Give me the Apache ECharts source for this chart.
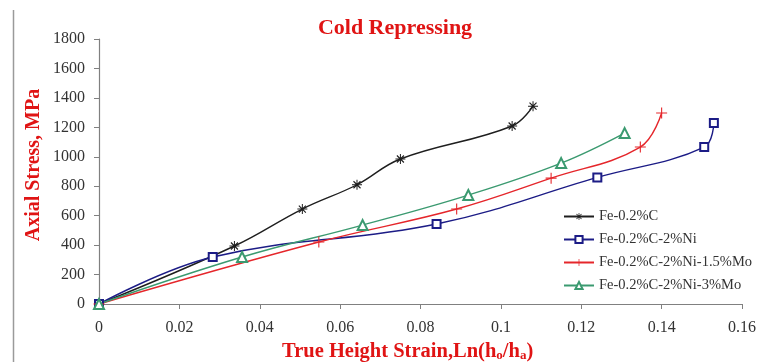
<!DOCTYPE html>
<html>
<head>
<meta charset="utf-8">
<script src="https://cdn.jsdelivr.net/npm/echarts@6/dist/echarts.min.js"></script>
<style>
  html, body { margin: 0; padding: 0; background: #fff; }
  #chart { width: 759px; height: 362px; }
</style>
</head>
<body>
<div id="chart"></div>
<script>
// Cold repressing: axial stress vs true height strain for four alloys
const seriesNames = [
  'Fe-0.2%C',
  'Fe-0.2%C-2%Ni',
  'Fe-0.2%C-2%Ni-1.5%Mo',
  'Fe-0.2%C-2%Ni-3%Mo'
];

const strainC      = [0, 0.0337, 0.0506, 0.0642, 0.0750, 0.1028, 0.1080];
const stressC      = [0, 394, 645, 810, 985, 1209, 1344];

const strainNi     = [0, 0.0283, 0.0840, 0.1240, 0.1506, 0.1530];
const stressNi     = [0, 319, 543, 860, 1066, 1229];

const strainNiMo15 = [0, 0.0547, 0.0890, 0.1125, 0.1347, 0.1400];
const stressNiMo15 = [0, 421, 645, 855, 1066, 1297];

const strainNiMo3  = [0, 0.0356, 0.0656, 0.0919, 0.1150, 0.1308];
const stressNiMo3  = [0, 319, 536, 740, 957, 1161];

const xTicks = [0, 0.02, 0.04, 0.06, 0.08, 0.1, 0.12, 0.14, 0.16];
const yTicks = [0, 200, 400, 600, 800, 1000, 1200, 1400, 1600, 1800];

const pairs = (xs, ys) => xs.map((x, i) => [x, ys[i]]);

const colors = ['#1e1e1e', '#1c1c86', '#e5262b', '#3b9a70'];
const serif = '"Liberation Serif", "Times New Roman", serif';
const red = '#e01414';

// Marker outlines built from thin filled bars so they look the same on the
// plot and in the legend.
const asterisk = 'path://M4.5 0 L5.5 0 L5.5 10 L4.5 10 Z ' +
  'M0 4.5 L10 4.5 L10 5.5 L0 5.5 Z ' +
  'M1.1 1.9 L1.9 1.1 L8.9 8.1 L8.1 8.9 Z ' +
  'M8.1 1.1 L8.9 1.9 L1.9 8.9 L1.1 8.1 Z';
const plus = 'path://M4.5 0 L5.5 0 L5.5 10 L4.5 10 Z M0 4.5 L10 4.5 L10 5.5 L0 5.5 Z';

function lineSeries(idx, data, symbol, size, filledPath) {
  return {
    name: seriesNames[idx],
    type: 'line',
    data: data,
    smooth: 0.4,
    symbol: symbol,
    symbolSize: size,
    showAllSymbol: true,
    lineStyle: { color: colors[idx], width: 1.4 },
    itemStyle: filledPath
      ? { color: colors[idx], borderWidth: 0 }
      : { color: colors[idx], borderColor: colors[idx], borderWidth: 1 },
    emphasis: { disabled: true }
  };
}

const chart = echarts.init(document.getElementById('chart'), null, { renderer: 'canvas' });

chart.setOption({
  animation: false,
  backgroundColor: '#ffffff',
  title: {
    text: 'Cold Repressing',
    left: 390,
    top: 12,
    textAlign: 'center',
    textStyle: { fontFamily: serif, fontWeight: 'bold', fontSize: 22, color: red }
  },
  grid: { left: 99, right: 14, top: 39, bottom: 58 },
  legend: {
    orient: 'vertical',
    left: 558,
    top: 204,
    itemWidth: 30,
    itemHeight: 9,
    itemGap: 8,
    textStyle: { fontFamily: serif, fontSize: 14.5, color: '#333' },
    data: seriesNames
  },
  xAxis: {
    type: 'value',
    min: xTicks[0],
    max: xTicks[xTicks.length - 1],
    interval: 0.02,
    splitLine: { show: false },
    axisLine: { lineStyle: { color: '#808080', width: 1.2 } },
    axisTick: { show: true, length: 5, lineStyle: { color: '#808080' } },
    axisLabel: {
      margin: 16,
      fontFamily: serif,
      fontSize: 16,
      color: '#333',
      formatter: v => String(parseFloat(v.toFixed(2)))
    }
  },
  yAxis: {
    type: 'value',
    min: yTicks[0],
    max: yTicks[yTicks.length - 1],
    interval: 200,
    splitLine: { show: false },
    axisLine: { show: true, lineStyle: { color: '#808080', width: 1.2 } },
    axisTick: { show: true, length: 5, lineStyle: { color: '#808080' } },
    axisLabel: { margin: 14, fontFamily: serif, fontSize: 16, color: '#333', formatter: v => String(v) }
  },
  graphic: [
    {
      type: 'line',
      shape: { x1: 13.5, y1: 10, x2: 13.5, y2: 362 },
      style: { stroke: '#9a9a9a', lineWidth: 1.5 }
    },
    {
      type: 'text',
      x: 34,
      y: 165,
      rotation: Math.PI / 2,
      style: {
        text: 'Axial Stress, MPa',
        fontFamily: serif,
        fontWeight: 'bold',
        fontSize: 20,
        fill: red,
        align: 'center',
        verticalAlign: 'middle'
      }
    },
    {
      type: 'text',
      left: 282,
      top: 341,
      style: {
        text: '{m|True Height Strain,Ln(h}{s|o}{m|/h}{s|a}{m|)}',
        rich: {
          m: { fontFamily: serif, fontWeight: 'bold', fontSize: 20.5, fill: red, color: red },
          s: { fontFamily: serif, fontWeight: 'bold', fontSize: 13, fill: red, color: red, padding: [9, 0, 0, 0] }
        }
      }
    }
  ],
  series: [
    lineSeries(0, pairs(strainC, stressC), asterisk, 10, true),
    lineSeries(1, pairs(strainNi, stressNi), 'emptyRect', 8, false),
    lineSeries(2, pairs(strainNiMo15, stressNiMo15), plus, 11, true),
    lineSeries(3, pairs(strainNiMo3, stressNiMo3), 'emptyTriangle', 10, false)
  ]
});
</script>
</body>
</html>
